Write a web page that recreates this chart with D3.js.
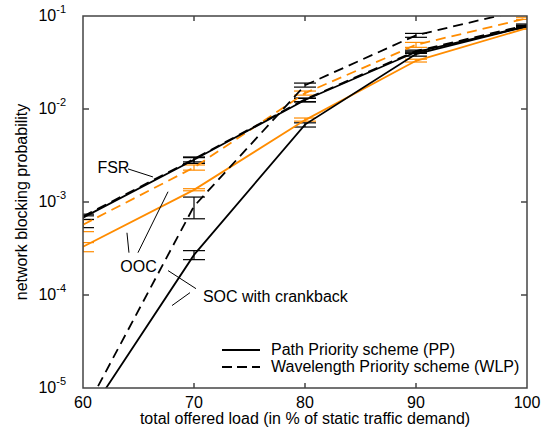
<!DOCTYPE html>
<html>
<head>
<meta charset="utf-8">
<script src="https://cdn.jsdelivr.net/npm/d3@7"></script>
<style>
    body { margin: 0; background: #fff; }
    svg { font-family: "Liberation Sans", Arial, Helvetica, sans-serif; }
</style>
</head>
<body>
<div id="chart"></div>
<script>
'use strict';

// offered load (% of static traffic demand)
var loads = [60, 70, 80, 90, 100];

// blocking probability; err = [low, high]
var fsrPP = [6.8e-4, 2.85e-3, 1.25e-2, 4.1e-2, 7.75e-2];
var fsrPPErr = [[6.5e-4, 7.1e-4], [2.6e-3, 3.05e-3], [1.19e-2, 1.31e-2], [3.98e-2, 4.18e-2], [7.57e-2, 7.95e-2]];
var fsrWLP = [7.0e-4, 2.9e-3, 1.27e-2, 4.2e-2, 8.0e-2];
var fsrWLPErr = [[5.3e-4, 7.4e-4], [2.7e-3, 3.0e-3], [1.2e-2, 1.3e-2], [4.0e-2, 4.3e-2], [7.7e-2, 8.2e-2]];
var oocPP = [3.3e-4, 1.35e-3, 7.6e-3, 3.3e-2, 7.4e-2];
var oocPPErr = [[2.92e-4, 3.66e-4], [1.32e-3, 1.39e-3], [7.4e-3, 8.0e-3], [3.2e-2, 3.43e-2], [7.2e-2, 7.6e-2]];
var oocWLP = [5.7e-4, 2.35e-3, 1.48e-2, 4.9e-2, 9.45e-2];
var oocWLPErr = [[4.8e-4, 6.44e-4], [2.2e-3, 2.5e-3], [1.41e-2, 1.56e-2], [4.6e-2, 5.2e-2], [9.2e-2, 9.7e-2]];
var socPP = [4.2e-6, 2.7e-4, 6.8e-3, 3.9e-2, 7.75e-2];
var socPPErr = [[4.0e-6, 4.4e-6], [2.4e-4, 3.0e-4], [6.4e-3, 7.1e-3], [3.7e-2, 4.0e-2], [7.5e-2, 7.9e-2]];
var socWLP = [5.2e-6, 9.0e-4, 1.8e-2, 6.2e-2, 1.19e-1];
var socWLPErr = [[5.0e-6, 5.4e-6], [6.6e-4, 1.13e-3], [1.72e-2, 1.9e-2], [5.9e-2, 6.5e-2], [1.15e-1, 1.23e-1]];

var xTicks = [60, 70, 80, 90, 100];
var yTicks = [1e-5, 1e-4, 1e-3, 1e-2, 1e-1];

var legendLabels = ['Path Priority scheme (PP)', 'Wavelength Priority scheme (WLP)'];

// annotation labels and their leader lines, in data units [load, probability]
var labels = [
    {text: 'FSR', at: [61.3, 2.05e-3], anchor: 'start'},
    {text: 'OOC', at: [65.0, 1.78e-4], anchor: 'middle'},
    {text: 'SOC with crankback', at: [70.8, 8.5e-5], anchor: 'start'}
];
var leaders = [
    [[64.05, 2.27e-3], [66.3, 1.86e-3]],
    [[63.96, 4.67e-4], [64.14, 2.85e-4]],
    [[64.95, 2.85e-4], [67.66, 1.29e-3]],
    [[67.66, 1.83e-4], [70.18, 1.17e-4]],
    [[68.02, 7.7e-5], [69.64, 1.06e-4]]
];

class BlockingChart {
    constructor(containerElement) {
        this.margin = {top: 16, right: 19, bottom: 50, left: 83};
        this.width = 546 - this.margin.left - this.margin.right;
        this.height = 438 - this.margin.top - this.margin.bottom;

        this.x = d3.scaleLinear().domain([60, 100]).range([0, this.width]);
        this.y = d3.scaleLog().domain([1e-5, 1e-1]).range([this.height, 0]);

        this.line = d3.line()
            .x(function(d) { return this.x(d[0]); }.bind(this))
            .y(function(d) { return this.y(d[1]); }.bind(this));

        this.svg = d3.select(containerElement)
            .append('svg')
            .attr('width', 546)
            .attr('height', 438);

        this.g = this.svg.append('g')
            .attr('transform', 'translate(' + this.margin.left + ',' + this.margin.top + ')');

        this.g.append('clipPath').attr('id', 'plot-clip')
            .append('rect')
            .attr('width', this.width)
            .attr('height', this.height);
    }
    setup(series) {
        var x = this.x, y = this.y, g = this.g, width = this.width, height = this.height;

        var plot = g.append('g').attr('clip-path', 'url(#plot-clip)');

        // error bars first, lines on top
        series.forEach(function(s) {
            var bars = plot.append('g')
                .attr('stroke', s.color)
                .attr('stroke-width', 1.2)
                .attr('fill', 'none');
            s.err.forEach(function(e, i) {
                var cx = x(loads[i]);
                bars.append('line').attr('x1', cx).attr('x2', cx).attr('y1', y(e[0])).attr('y2', y(e[1]));
                bars.append('line').attr('x1', cx - 11).attr('x2', cx + 11).attr('y1', y(e[0])).attr('y2', y(e[0]));
                bars.append('line').attr('x1', cx - 11).attr('x2', cx + 11).attr('y1', y(e[1])).attr('y2', y(e[1]));
            });
        });

        series.forEach(function(s) {
            plot.append('path')
                .datum(loads.map(function(l, i) { return [l, s.values[i]]; }))
                .attr('fill', 'none')
                .attr('stroke', s.color)
                .attr('stroke-width', 1.8)
                .attr('stroke-dasharray', s.dashed ? '10,6' : null)
                .attr('d', this.line);
        }.bind(this));

        // frame with inward ticks
        var axisColor = '#444';
        g.append('rect')
            .attr('width', width)
            .attr('height', height)
            .attr('fill', 'none')
            .attr('stroke', axisColor)
            .attr('stroke-width', 1.5);

        var ticks = g.append('g').attr('stroke', axisColor).attr('stroke-width', 1.5);
        xTicks.slice(1, -1).forEach(function(t) {
            ticks.append('line').attr('x1', x(t)).attr('x2', x(t)).attr('y1', height).attr('y2', height - 5);
            ticks.append('line').attr('x1', x(t)).attr('x2', x(t)).attr('y1', 0).attr('y2', 5);
        });
        yTicks.slice(1, -1).forEach(function(t) {
            ticks.append('line').attr('x1', 0).attr('x2', 6).attr('y1', y(t)).attr('y2', y(t));
            ticks.append('line').attr('x1', width).attr('x2', width - 6).attr('y1', y(t)).attr('y2', y(t));
        });

        g.append('g').selectAll('text')
            .data(xTicks)
            .join('text')
            .attr('x', function(d) { return x(d); })
            .attr('y', height + 20)
            .attr('text-anchor', 'middle')
            .attr('font-size', 16)
            .text(function(d) { return d; });

        var yLab = g.append('g').selectAll('text')
            .data(yTicks)
            .join('text')
            .attr('x', -17)
            .attr('y', function(d) { return y(d) + 5; })
            .attr('text-anchor', 'end')
            .attr('font-size', 16);
        yLab.append('tspan').text('10');
        yLab.append('tspan')
            .attr('dy', -8)
            .attr('font-size', 11)
            .text(function(d) { return '-' + Math.round(-Math.log10(d)); });

        g.append('text')
            .attr('x', width / 2)
            .attr('y', height + 36)
            .attr('text-anchor', 'middle')
            .attr('font-size', 16)
            .text('total offered load (in % of static traffic demand)');

        g.append('text')
            .attr('transform', 'translate(' + (27 - this.margin.left) + ',' + (height / 2) + ') rotate(-90)')
            .attr('text-anchor', 'middle')
            .attr('font-size', 16)
            .text('network blocking probability');

        // annotations
        g.append('g').selectAll('path')
            .data(leaders)
            .join('path')
            .attr('fill', 'none')
            .attr('stroke', '#000')
            .attr('stroke-width', 1)
            .attr('d', this.line);

        g.append('g').selectAll('text')
            .data(labels)
            .join('text')
            .attr('x', function(d) { return x(d.at[0]); })
            .attr('y', function(d) { return y(d.at[1]); })
            .attr('text-anchor', function(d) { return d.anchor; })
            .attr('font-size', 16)
            .text(function(d) { return d.text; });

        // legend, bottom right inside the frame
        var legend = g.append('g')
            .attr('transform', 'translate(' + (width - 305) + ',' + (height - 38) + ')');
        legendLabels.forEach(function(label, i) {
            legend.append('line')
                .attr('x1', 0).attr('x2', 38)
                .attr('y1', i * 17).attr('y2', i * 17)
                .attr('stroke', '#000')
                .attr('stroke-width', 1.8)
                .attr('stroke-dasharray', i === 1 ? '10,5' : null);
            legend.append('text')
                .attr('x', 49)
                .attr('y', i * 17 + 5)
                .attr('font-size', 16)
                .text(label);
        });
    }
}

var chart = new BlockingChart('#chart');
chart.setup([
    {color: '#ff8c00', dashed: false, values: oocPP, err: oocPPErr},
    {color: '#ff8c00', dashed: true, values: oocWLP, err: oocWLPErr},
    {color: '#000', dashed: false, values: fsrPP, err: fsrPPErr},
    {color: '#000', dashed: true, values: fsrWLP, err: fsrWLPErr},
    {color: '#000', dashed: false, values: socPP, err: socPPErr},
    {color: '#000', dashed: true, values: socWLP, err: socWLPErr}
]);
</script>
</body>
</html>
